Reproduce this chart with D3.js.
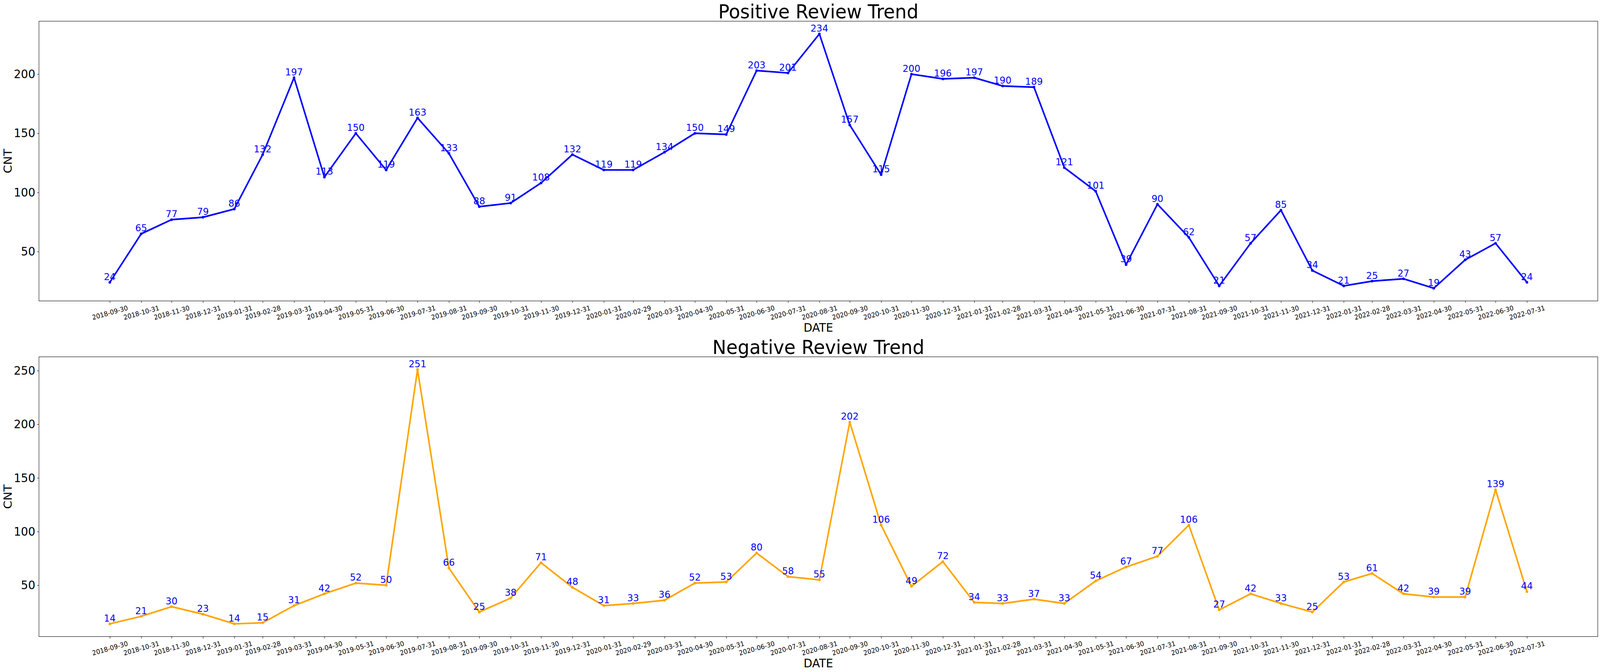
<!DOCTYPE html>
<html>
<head>
<meta charset="utf-8">
<script src="https://cdn.jsdelivr.net/npm/d3@7"></script>
<style>
  html, body { margin: 0; padding: 0; background: #fff; overflow: hidden; }
  svg { display: block; width: 100vw; height: 100vh; font-family: "DejaVu Sans", sans-serif; }
</style>
</head>
<body>
<svg viewBox="0 0 4312 1720" preserveAspectRatio="none"></svg>
<script>
const dates = [
	"2018-09-30", "2018-10-31", "2018-11-30", "2018-12-31",
	"2019-01-31", "2019-02-28", "2019-03-31", "2019-04-30", "2019-05-31", "2019-06-30",
	"2019-07-31", "2019-08-31", "2019-09-30", "2019-10-31", "2019-11-30", "2019-12-31",
	"2020-01-31", "2020-02-29", "2020-03-31", "2020-04-30", "2020-05-31", "2020-06-30",
	"2020-07-31", "2020-08-31", "2020-09-30", "2020-10-31", "2020-11-30", "2020-12-31",
	"2021-01-31", "2021-02-28", "2021-03-31", "2021-04-30", "2021-05-31", "2021-06-30",
	"2021-07-31", "2021-08-31", "2021-09-30", "2021-10-31", "2021-11-30", "2021-12-31",
	"2022-01-31", "2022-02-28", "2022-03-31", "2022-04-30", "2022-05-31", "2022-06-30",
	"2022-07-31"
]

const positive = [
	24, 65, 77, 79, 86, 132, 197, 113, 150, 119,
	163, 133, 88, 91, 108, 132, 119, 119, 134, 150,
	149, 203, 201, 234, 157, 115, 200, 196, 197, 190,
	189, 121, 101, 39, 90, 62, 21, 57, 85, 34,
	21, 25, 27, 19, 43, 57, 24
]

const negative = [
	14, 21, 30, 23, 14, 15, 31, 42, 52, 50,
	251, 66, 25, 38, 71, 48, 31, 33, 36, 52,
	53, 80, 58, 55, 202, 106, 49, 72, 34, 33,
	37, 33, 54, 67, 77, 106, 27, 42, 33, 25,
	53, 61, 42, 39, 39, 139, 44
]

const yTicksPos = [50, 100, 150, 200]
const yTicksNeg = [50, 100, 150, 200, 250]

const svg = d3.select("svg")
const parse = d3.timeParse("%Y-%m-%d")
const fmt = d3.timeFormat("%Y-%m-%d")
const left = 105, right = 4306
const tick = 4.9

// matplotlib-like 5% margins
const pad = (lo, hi) => [lo - (hi - lo) * 0.05, hi + (hi - lo) * 0.05]

const drawPanel = (opts) => {
	const { top, bottom, title, values, color, yTicks } = opts
	const data = dates.map((d, i) => ({ date: parse(d), value: values[i] }))

	const xExt = d3.extent(data, (d) => +d.date)
	const xDom = pad(xExt[0], xExt[1]).map((t) => new Date(t))
	const x = d3.scaleTime().domain(xDom).range([left, right])

	const y = d3
		.scaleLinear()
		.domain(pad(d3.min(values), d3.max(values)))
		.range([bottom, top])

	const g = svg.append("g")

	// x axis
	const xAxisGroup = g.append("g").attr("transform", `translate(0, ${bottom})`)
	xAxisGroup.call(
		d3.axisBottom(x)
			.tickValues(data.map((d) => d.date))
			.tickFormat(fmt)
			.tickSize(tick)
	)
	xAxisGroup.select(".domain").remove()
	xAxisGroup.selectAll(".tick line").attr("stroke", "#000").attr("stroke-width", 1.1)
	xAxisGroup.selectAll(".tick text")
		.attr("y", 0)
		.attr("dy", "0.35em")
		.attr("text-anchor", "middle")
		.attr("transform", "translate(0, 30) rotate(-15)")
		.attr("font-size", 17)
		.attr("font-family", "DejaVu Sans")
		.attr("fill", "#000")

	// y axis
	const yAxisGroup = g.append("g").attr("transform", `translate(${left}, 0)`)
	yAxisGroup.call(
		d3.axisLeft(y).tickValues(yTicks).tickSize(tick).tickPadding(tick)
	)
	yAxisGroup.select(".domain").remove()
	yAxisGroup.selectAll(".tick line").attr("stroke", "#000").attr("stroke-width", 1.1)
	yAxisGroup.selectAll(".tick text")
		.attr("font-size", 30.5)
		.attr("font-family", "DejaVu Sans")
		.attr("fill", "#000")

	// line + markers
	const line = d3.line().x((d) => x(d.date)).y((d) => y(d.value))
	g.append("path")
		.datum(data)
		.attr("d", line)
		.attr("fill", "none")
		.attr("stroke", color)
		.attr("stroke-width", 4.2)
		.attr("stroke-linejoin", "round")

	g.selectAll("circle")
		.data(data)
		.enter()
		.append("circle")
		.attr("cx", (d) => x(d.date))
		.attr("cy", (d) => y(d.value))
		.attr("r", 3.5)
		.attr("fill", color)

	// value labels
	g.selectAll("text.val")
		.data(data)
		.enter()
		.append("text")
		.attr("class", "val")
		.attr("x", (d) => x(d.date))
		.attr("y", (d) => y(d.value) - 6)
		.attr("text-anchor", "middle")
		.attr("font-size", 25)
		.attr("fill", "#0000ff")
		.text((d) => d.value)

	// frame
	g.append("rect")
		.attr("x", left)
		.attr("y", top)
		.attr("width", right - left)
		.attr("height", bottom - top)
		.attr("fill", "none")
		.attr("stroke", "#000")
		.attr("stroke-width", 1.1)

	// title and labels
	g.append("text")
		.attr("x", (left + right) / 2)
		.attr("y", top - 7.6)
		.attr("text-anchor", "middle")
		.attr("font-size", 50)
		.text(title)

	g.append("text")
		.attr("x", (left + right) / 2)
		.attr("y", bottom + 79)
		.attr("text-anchor", "middle")
		.attr("font-size", 30.5)
		.text("DATE")

	g.append("text")
		.attr("transform", `translate(31.7, ${(top + bottom) / 2}) rotate(-90)`)
		.attr("text-anchor", "middle")
		.attr("font-size", 30.5)
		.text("CNT")
}

drawPanel({
	top: 54.3, bottom: 770.3, title: "Positive Review Trend",
	values: positive, color: "#0000ff", yTicks: yTicksPos
})
drawPanel({
	top: 913.3, bottom: 1629.3, title: "Negative Review Trend",
	values: negative, color: "#ffa500", yTicks: yTicksNeg
})
</script>
</body>
</html>
